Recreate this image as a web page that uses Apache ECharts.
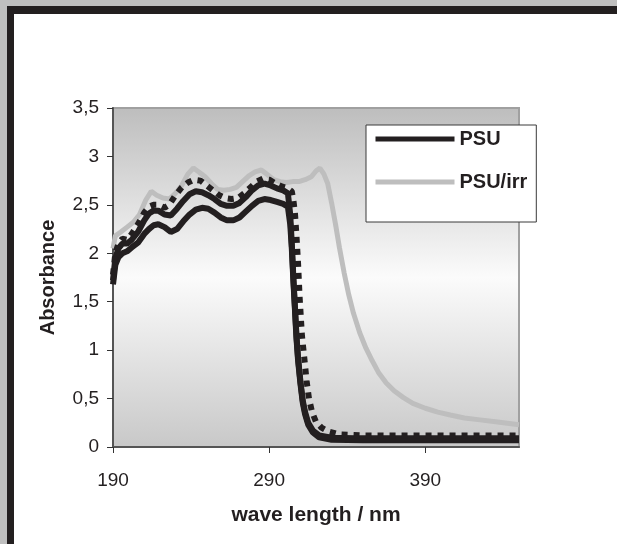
<!DOCTYPE html>
<html><head><meta charset="utf-8">
<script src="https://cdn.jsdelivr.net/npm/echarts@6/dist/echarts.min.js"></script>
<style>html,body{margin:0;padding:0;background:#fff}#c{width:617px;height:544px}</style>
</head><body><div id="c"></div>
<script>
// x tick labels (nm)
const xTickValues = [190, 290, 390];
// PSU, lower solid curve
const wlL  = [190,191.5,193.5,196,199,202,206,210,213,216,219,223,227,231,235,239,243,247,251,255,259,263,267,271,275,279,283,287,291,295,299,302,303.5,304.5,305.5,306.5,307.5,308.5,310,311.5,313,315,318,322,330,350,400,450];
const psuL = [1.68,1.88,1.96,2.00,2.02,2.06,2.11,2.20,2.25,2.29,2.30,2.27,2.22,2.25,2.33,2.40,2.45,2.47,2.46,2.42,2.37,2.34,2.34,2.37,2.43,2.49,2.54,2.56,2.55,2.53,2.51,2.48,2.30,2.05,1.72,1.42,1.12,0.90,0.66,0.46,0.34,0.23,0.15,0.10,0.075,0.07,0.07,0.07];
// PSU, middle solid curve
const wlM  = [190,191.5,193.5,196,199,202,206,210,213,216,219,223,227,231,235,239,243,247,251,255,259,263,267,271,275,279,283,287,291,295,299,302,303.5,304.5,305.5,306.5,307.5,308.5,310,311.5,313,315,318,322,330,345,400,450];
const psuM = [1.72,1.95,2.05,2.10,2.10,2.14,2.22,2.34,2.41,2.44,2.44,2.40,2.39,2.46,2.54,2.61,2.64,2.63,2.60,2.56,2.51,2.49,2.49,2.52,2.58,2.65,2.70,2.72,2.70,2.67,2.65,2.62,2.40,2.10,1.75,1.45,1.15,0.92,0.68,0.48,0.36,0.25,0.17,0.12,0.095,0.09,0.09,0.09];
// PSU, dotted curve
const wlD  = [190,191.5,193.5,196,199,202,206,210,213,216,219,223,226,230,234,238,242,246,250,254,258,262,266,270,274,278,282,286,290,294,298,302,304.5,305.5,306.5,307.5,308.5,309.5,311,312.5,314,315.5,317.5,320,323.5,328,335,350,400,450];
const psuD = [1.78,2.00,2.10,2.15,2.14,2.20,2.30,2.42,2.48,2.50,2.50,2.47,2.50,2.60,2.68,2.73,2.76,2.75,2.70,2.65,2.60,2.57,2.56,2.57,2.62,2.68,2.74,2.77,2.76,2.72,2.69,2.67,2.64,2.55,2.42,2.18,1.90,1.55,1.15,0.92,0.68,0.50,0.36,0.26,0.20,0.16,0.13,0.12,0.12,0.12];
// PSU/irr
const wlIrr = [190,191.5,195,199,203,207,211,214.5,218,222,226,230,234,238,241.5,245,249,253,257,261,265,269,273,277,281,285,289,293,297,301,305,309,313,317,320,322.5,325,327.5,330,332.5,335,338,341,344,348,352,356,360,365,370,376,382,390,398,406,415,425,435,445,450];
const irr   = [2.05,2.18,2.22,2.27,2.32,2.40,2.55,2.64,2.60,2.57,2.56,2.62,2.70,2.82,2.88,2.84,2.79,2.72,2.66,2.65,2.66,2.68,2.74,2.80,2.84,2.86,2.81,2.76,2.74,2.73,2.74,2.74,2.76,2.79,2.85,2.88,2.82,2.72,2.52,2.30,2.06,1.80,1.57,1.38,1.18,1.02,0.89,0.77,0.66,0.58,0.51,0.45,0.40,0.36,0.33,0.30,0.28,0.26,0.24,0.23];

const pairs = (xs, ys) => xs.map((x, i) => [x, ys[i]]);
const FONT = "'Liberation Sans', Arial, sans-serif";
const INK = '#231f20';

const chart = echarts.init(document.getElementById('c'), null, {renderer: 'canvas'});
chart.setOption({
  animation: false,
  backgroundColor: '#ffffff',
  graphic: [
    {type: 'rect', shape: {x: 0, y: 0, width: 617, height: 6}, style: {fill: '#bfbfbf'}, silent: true},
    {type: 'rect', shape: {x: 0, y: 0, width: 7, height: 544}, style: {fill: '#bfbfbf'}, silent: true},
    {type: 'rect', shape: {x: 7, y: 6, width: 610, height: 8}, style: {fill: INK}, silent: true},
    {type: 'rect', shape: {x: 7, y: 6, width: 7, height: 538}, style: {fill: INK}, silent: true}
  ],
  grid: {
    left: 113, top: 108, width: 406, height: 339,
    show: true, borderColor: '#a0a0a0', borderWidth: 2,
    backgroundColor: new echarts.graphic.LinearGradient(0, 0, 0, 1, [
      {offset: 0, color: '#bdbdbd'},
      {offset: 0.5, color: '#fbfbfb'},
      {offset: 1, color: '#c8c8c8'}
    ])
  },
  legend: {
    data: ['PSU', 'PSU/irr'],
    orient: 'vertical',
    left: 366, top: 125,
    padding: [3, 9, 29, 7],
    itemWidth: 79, itemHeight: 22, itemGap: 21,
    backgroundColor: '#ffffff',
    borderColor: '#3a3a3a', borderWidth: 1,
    lineStyle: {width: 5},
    itemStyle: {opacity: 0, borderWidth: 0},
    textStyle: {fontFamily: FONT, fontSize: 20, fontWeight: 'bold', color: INK, lineHeight: 22}
  },
  xAxis: {
    type: 'value', min: 190, max: 450,
    name: 'wave length / nm', nameLocation: 'middle', nameGap: 58,
    nameTextStyle: {fontFamily: FONT, fontSize: 21, fontWeight: 'bold', color: INK},
    axisLine: {show: true, onZero: false, lineStyle: {color: '#555', width: 2}},
    axisTick: {show: true, length: 6, customValues: xTickValues, lineStyle: {color: '#333'}},
    axisLabel: {customValues: xTickValues, margin: 24, fontFamily: FONT, fontSize: 19, color: INK},
    splitLine: {show: false}
  },
  yAxis: {
    type: 'value', min: 0, max: 3.5, interval: 0.5,
    name: 'Absorbance', nameLocation: 'middle', nameGap: 55,
    nameTextStyle: {fontFamily: FONT, fontSize: 20, fontWeight: 'bold', color: INK},
    axisLine: {show: true, lineStyle: {color: '#555', width: 2}},
    axisTick: {show: true, length: 6, lineStyle: {color: '#333'}},
    axisLabel: {margin: 14, fontFamily: FONT, fontSize: 19, color: INK,
      formatter: v => String(v).replace('.', ',')},
    splitLine: {show: false}
  },
  series: [
    {name: 'PSU/irr', type: 'line', data: pairs(wlIrr, irr), symbol: 'none', showSymbol: false,
      lineStyle: {color: '#bebebe', width: 5}, itemStyle: {color: '#bebebe'}, z: 2},
    {name: 'PSU (2)', type: 'line', data: pairs(wlL, psuL), symbol: 'none', showSymbol: false,
      lineStyle: {color: INK, width: 6}, itemStyle: {color: INK}, z: 3},
    {name: 'PSU', type: 'line', data: pairs(wlM, psuM), symbol: 'none', showSymbol: false,
      lineStyle: {color: INK, width: 6}, itemStyle: {color: INK}, z: 4},
    {name: 'PSU (3)', type: 'line', data: pairs(wlD, psuD), symbol: 'none', showSymbol: false,
      lineStyle: {color: INK, width: 6, type: 'dotted'}, itemStyle: {color: INK}, z: 5}
  ]
});
</script>
</body></html>
